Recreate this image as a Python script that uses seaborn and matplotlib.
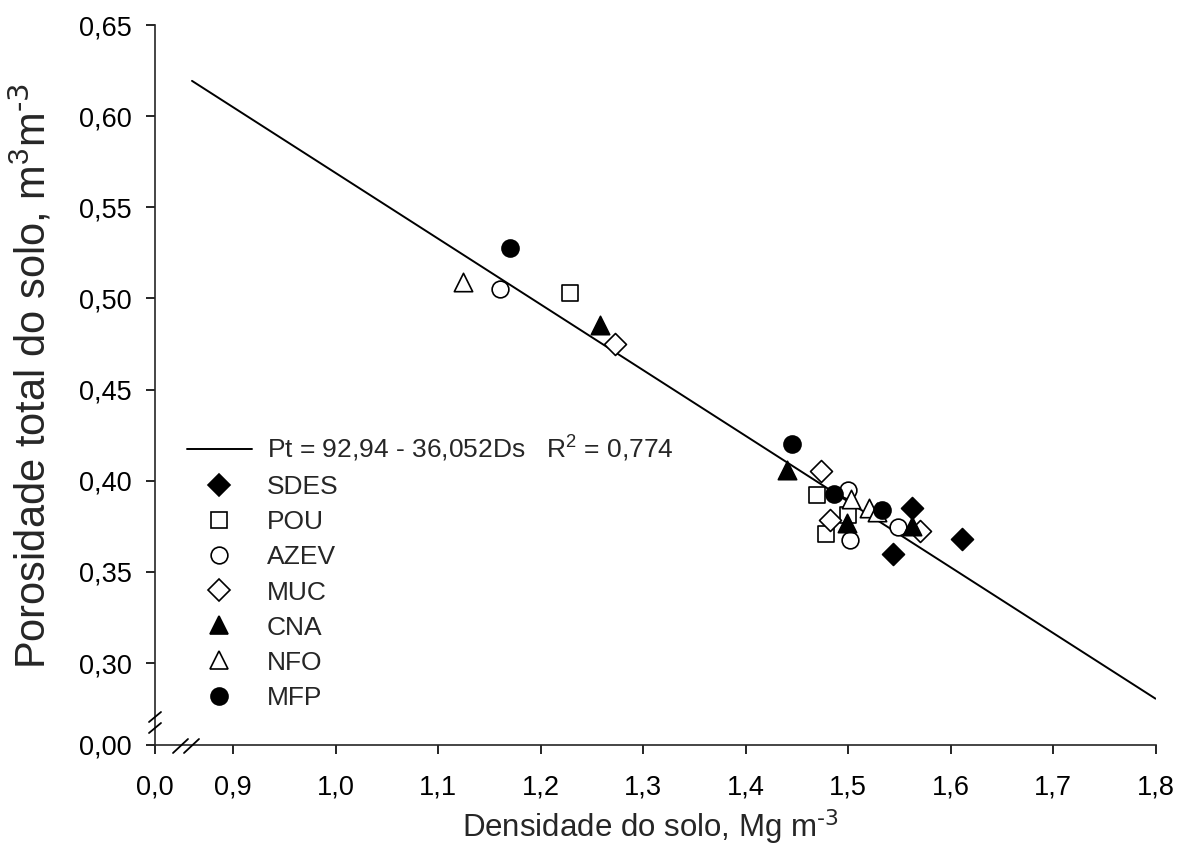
import matplotlib
matplotlib.use("Agg")
import matplotlib.pyplot as plt
from matplotlib.lines import Line2D
import seaborn as sns
import numpy as np
import pandas as pd

# ---------------- data ----------------
treatments = ["SDES", "POU", "AZEV", "MUC", "CNA", "NFO", "MFP"]

sdes_ds = [1.562, 1.544, 1.611]
sdes_pt = [0.385, 0.360, 0.368]
pou_ds = [1.229, 1.470, 1.500, 1.479]
pou_pt = [0.503, 0.392, 0.381, 0.371]
azev_ds = [1.160, 1.500, 1.502, 1.549]
azev_pt = [0.505, 0.395, 0.3675, 0.3745]
muc_ds = [1.273, 1.474, 1.482, 1.570]
muc_pt = [0.475, 0.4055, 0.3785, 0.3726]
cna_ds = [1.258, 1.440, 1.499, 1.562]
cna_pt = [0.4854, 0.406, 0.377, 0.375]
nfo_ds = [1.124, 1.503, 1.520, 1.528]
nfo_pt = [0.509, 0.390, 0.385, 0.383]
mfp_ds = [1.170, 1.445, 1.486, 1.533]
mfp_pt = [0.5275, 0.420, 0.393, 0.384]

# regression Pt(%) = a - b*Ds
reg_a = 92.94
reg_b = 36.052
reg_r2 = "0,774"
reg_x = [0.86, 1.80]

x_ticks = [0.9, 1.0, 1.1, 1.2, 1.3, 1.4, 1.5, 1.6, 1.7, 1.8]
x_tick_labels = ["0,9", "1,0", "1,1", "1,2", "1,3", "1,4", "1,5", "1,6", "1,7", "1,8"]
x_break_label = "0,0"
y_ticks = [0.30, 0.35, 0.40, 0.45, 0.50, 0.55, 0.60, 0.65]
y_tick_labels = ["0,30", "0,35", "0,40", "0,45", "0,50", "0,55", "0,60", "0,65"]
y_break_label = "0,00"

# ---------------- style ----------------
sns.set_style("ticks")
plt.rcParams["font.family"] = ["Liberation Sans", "DejaVu Sans"]
plt.rcParams["mathtext.default"] = "regular"
plt.rcParams["axes.unicode_minus"] = False

W, H = 1184, 868
fig = plt.figure(figsize=(W / 100, H / 100), dpi=100)
L, R, T, B = 155, 1155.5, 25, 745
ax = fig.add_axes([L / W, 1 - B / H, (R - L) / W, (B - T) / H])

x0 = 0.9 - (233 - 155) / 1025.0
y0 = 0.65 - (745 - 25) / 1823.0
ax.set_xlim(x0, 1.8)
ax.set_ylim(y0, 0.65)

# regression line
xl = np.array(reg_x)
yl = (reg_a - reg_b * xl) / 100.0
sns.lineplot(x=xl, y=yl, color="black", linewidth=1.4, ax=ax, zorder=2)

groups = {
    "SDES": (sdes_ds, sdes_pt, "D", "black", 125),
    "POU": (pou_ds, pou_pt, "s", "white", 125),
    "AZEV": (azev_ds, azev_pt, "o", "white", 145),
    "MUC": (muc_ds, muc_pt, "D", "white", 125),
    "CNA": (cna_ds, cna_pt, "^", "black", 175),
    "NFO": (nfo_ds, nfo_pt, "^", "white", 175),
    "MFP": (mfp_ds, mfp_pt, "o", "black", 150),
}
for name in treatments:
    xs, ys, mk, fc, sz = groups[name]
    df = pd.DataFrame({"Ds": xs, "Pt": ys})
    sns.scatterplot(data=df, x="Ds", y="Pt", marker=mk, color=fc,
                    edgecolor="black", linewidth=1.2, s=sz, ax=ax,
                    legend=False, zorder=3)

# axes styling
sns.despine(ax=ax)
for sp in ["left", "bottom"]:
    ax.spines[sp].set_linewidth(1.2)
ax.set_xticks([x0] + x_ticks)
ax.set_xticklabels([x_break_label] + x_tick_labels)
ax.set_yticks([y0] + y_ticks)
ax.set_yticklabels([y_break_label] + y_tick_labels)
ax.tick_params(axis="both", direction="out", length=6.5, width=1.2,
               labelsize=19.5, color="black", labelcolor="black")
ax.tick_params(axis="x", pad=15)
ax.tick_params(axis="y", pad=10)

ax.set_xlabel(r"Densidade do solo, Mg m$^{\text{-3}}$", fontsize=22.5)
ax.set_ylabel(r"Porosidade total do solo, m$^{3}$m$^{\text{-3}}$", fontsize=30)
ax.xaxis.set_label_coords(0.495, -0.087)
ax.yaxis.set_label_coords(-0.1, 0.5125)

# axis break marks (pixel based)
def px(xp, yp):
    return (xp / W, 1 - yp / H)

for (xa, ya, xb, yb) in [(149, 722, 161, 712), (149, 733, 161, 723),
                         (173, 753, 188, 739), (184, 753, 199, 739)]:
    p1, p2 = px(xa, ya), px(xb, yb)
    fig.add_artist(Line2D([p1[0], p2[0]], [p1[1], p2[1]],
                          transform=fig.transFigure, color="black",
                          linewidth=1.3, clip_on=False, zorder=5))

# legend
handles = [Line2D([0], [0], color="black", linewidth=1.4)]
labels = [f"Pt = 92,94 - 36,052Ds   R$^2$ = {reg_r2}"]
for name in treatments:
    xs, ys, mk, fc, sz = groups[name]
    handles.append(Line2D([0], [0], linestyle="none", marker=mk,
                          markerfacecolor=fc, markeredgecolor="black",
                          markeredgewidth=1.2, markersize=np.sqrt(sz)))
    labels.append(name)
leg = ax.legend(handles, labels, loc="upper left",
                bbox_to_anchor=px(187, 434), bbox_transform=fig.transFigure,
                frameon=False, fontsize=19, handlelength=2.46,
                handletextpad=0.57, labelspacing=0.42, borderpad=0,
                borderaxespad=0)

fig.savefig("out.png", dpi=100)
